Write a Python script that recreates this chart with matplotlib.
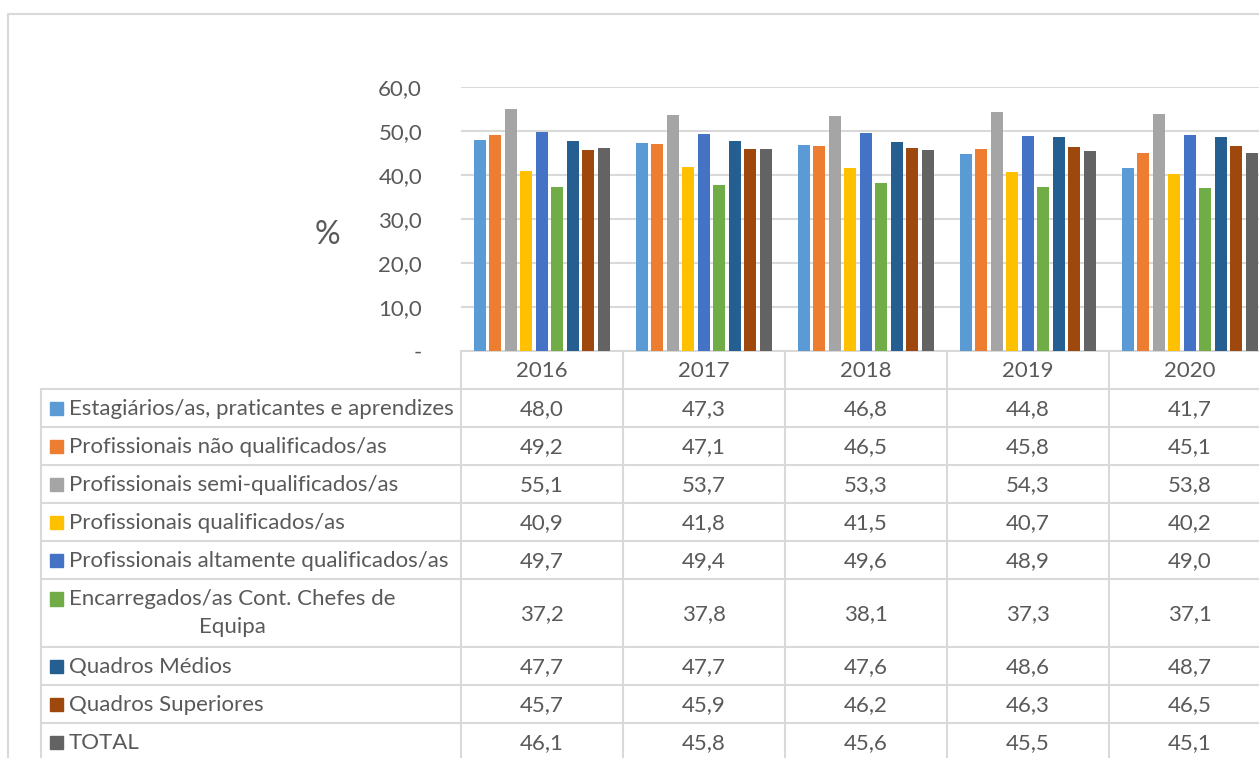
import matplotlib
matplotlib.use("Agg")
import matplotlib.pyplot as plt
from matplotlib.ticker import FuncFormatter

plt.rcParams['font.family'] = ['Lato', 'DejaVu Sans']

years = ['2016', '2017', '2018', '2019', '2020']
categories = [
    'Estagiários/as, praticantes e aprendizes',
    'Profissionais não qualificados/as',
    'Profissionais semi-qualificados/as',
    'Profissionais qualificados/as',
    'Profissionais altamente qualificados/as',
    'Encarregados/as Cont. Chefes de\nEquipa',
    'Quadros Médios',
    'Quadros Superiores',
    'TOTAL',
]
estagiarios = [48.0, 47.3, 46.8, 44.8, 41.7]
nao_qualificados = [49.2, 47.1, 46.5, 45.8, 45.1]
semi_qualificados = [55.1, 53.7, 53.3, 54.3, 53.8]
qualificados = [40.9, 41.8, 41.5, 40.7, 40.2]
altamente_qualificados = [49.7, 49.4, 49.6, 48.9, 49.0]
encarregados = [37.2, 37.8, 38.1, 37.3, 37.1]
quadros_medios = [47.7, 47.7, 47.6, 48.6, 48.7]
quadros_superiores = [45.7, 45.9, 46.2, 46.3, 46.5]
total = [46.1, 45.8, 45.6, 45.5, 45.1]
series = [estagiarios, nao_qualificados, semi_qualificados, qualificados,
          altamente_qualificados, encarregados, quadros_medios,
          quadros_superiores, total]
colors = ['#5B9BD5', '#ED7D31', '#A5A5A5', '#FFC000', '#4472C4',
          '#70AD47', '#255E91', '#9E480E', '#636363']
yticks = [0, 10, 20, 30, 40, 50, 60]

TXT = '#595959'
GRID = '#D9D9D9'
FS = 16

W, H = 1259, 758
fig = plt.figure(figsize=(W / 100, H / 100), dpi=100)

# pixel-space overlay for frame and data table
ov = fig.add_axes([0, 0, 1, 1])
ov.set_xlim(0, W)
ov.set_ylim(H, 0)
ov.axis('off')

# plot area
px_left, px_right, px_top, px_bottom = 461, 1271, 87, 351
col_w = (px_right - px_left) / len(years)
ax = fig.add_axes([px_left / W, 1 - px_bottom / H,
                   (px_right - px_left) / W, (px_bottom - px_top) / H])
ax.set_xlim(0, len(years))
ax.set_ylim(0, 60)
ax.set_yticks(yticks)
ax.yaxis.set_major_formatter(FuncFormatter(
    lambda v, p: '-' if v == 0 else f'{v:.1f}'.replace('.', ',')))
ax.tick_params(axis='y', length=0, pad=28, labelsize=FS, labelcolor=TXT)
ax.set_xticks([])
for s in ax.spines.values():
    s.set_visible(False)
ax.yaxis.grid(True, color=GRID, lw=1.5)
ax.set_axisbelow(True)
ax.set_ylabel('%', fontsize=23, color=TXT, rotation=0, va='center', ha='center')
ax.yaxis.set_label_coords(-0.165, 0.44)

step, bw, margin = 0.0957, 0.074, 0.08
for j, (vals, c) in enumerate(zip(series, colors)):
    xs = [i + margin + j * step for i in range(len(years))]
    ax.bar(xs, vals, width=bw, align='edge', color=c, zorder=2)

# chart frame
ov.plot([8.5, 8.5, W + 5], [H + 5, 13.5, 13.5], color=GRID, lw=1.5)

# data table
row_h = [38] * len(categories)
row_h[5] = 68
table_top = px_bottom
head_bottom = table_top + 38
bounds = [head_bottom]
for h in row_h:
    bounds.append(bounds[-1] + h)
leg_left = 41
lw = 1.5
# header row
ov.plot([px_left, W + 20], [table_top, table_top], color=GRID, lw=lw)
for i in range(len(years) + 1):
    x = px_left + i * col_w
    ov.plot([x, x], [table_top, H + 20], color=GRID, lw=lw)
for i, y in enumerate(years):
    ov.text(px_left + (i + 0.5) * col_w, (table_top + head_bottom) / 2 + 1, y,
            ha='center', va='center', fontsize=FS, color=TXT)
# body rows
for b in bounds:
    ov.plot([leg_left, W + 20], [b, b], color=GRID, lw=lw)
ov.plot([leg_left, leg_left], [head_bottom, H + 20], color=GRID, lw=lw)
for r, (name, vals, c) in enumerate(zip(categories, series, colors)):
    y0, y1 = bounds[r], bounds[r + 1]
    ymid = (y0 + y1) / 2
    if '\n' in name:
        ov.text(69, ymid, name, ha='left', va='center', fontsize=FS, color=TXT,
                multialignment='center', linespacing=1.55)
        ov.add_patch(plt.Rectangle((50, ymid - 14.5 - 6.5), 13.5, 13.5, color=c))
    else:
        ov.text(69, ymid + 1, name, ha='left', va='center', fontsize=FS, color=TXT)
        ov.add_patch(plt.Rectangle((50, ymid - 6.5), 13.5, 13.5, color=c))
    for i, v in enumerate(vals):
        ov.text(px_left + (i + 0.5) * col_w, ymid + 1, f'{v:.1f}'.replace('.', ','),
                ha='center', va='center', fontsize=FS, color=TXT)

fig.savefig('out.png', dpi=100)
